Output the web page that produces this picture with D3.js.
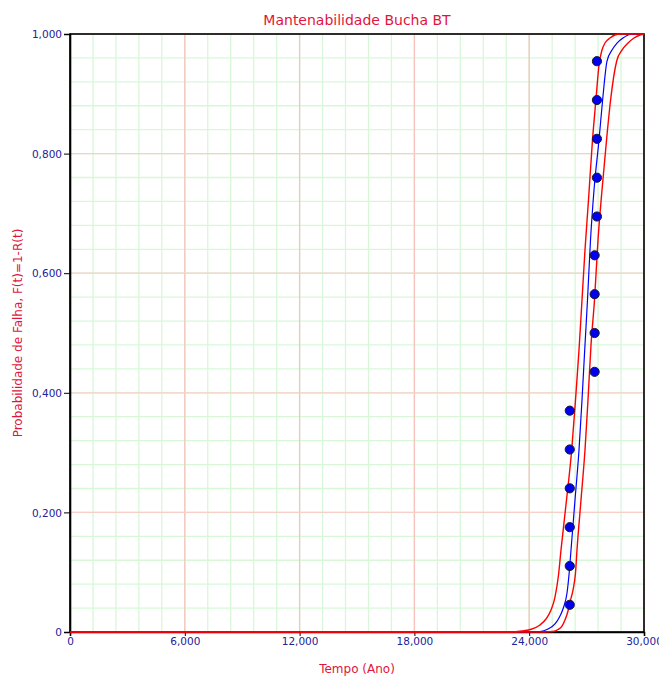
<!DOCTYPE html>
<html>
<head>
<meta charset="utf-8">
<script src="https://cdn.jsdelivr.net/npm/d3@7/dist/d3.min.js"></script>
<style>
  html, body { margin: 0; padding: 0; background: #fff; }
  svg { display: block; }
  text { font-family: "DejaVu Sans", Tahoma, sans-serif; }
</style>
</head>
<body>
<svg id="chart" width="659" height="680"></svg>
<script>
// ---- data ----
const title = "Mantenabilidade Bucha BT";
const xLabel = "Tempo (Ano)";
const yLabel = "Probabilidade de Falha, F(t)=1-R(t)";

const xTicks = [0, 6000, 12000, 18000, 24000, 30000];
const xTickLabels = ["0", "6,000", "12,000", "18,000", "24,000", "30,000"];
const yTicks = [0, 0.2, 0.4, 0.6, 0.8, 1.0];
const yTickLabels = ["0", "0,200", "0,400", "0,600", "0,800", "1,000"];

// observed failure points (time, unreliability)
const pointTimes = [26120, 26120, 26120, 26120, 26120, 26120,
                    27420, 27420, 27420, 27420,
                    27540, 27540, 27540, 27540, 27540];
const pointProbs = [0.0455, 0.1104, 0.1753, 0.2403, 0.3052, 0.3701,
                    0.4351, 0.5, 0.5649, 0.6299,
                    0.6948, 0.7597, 0.8247, 0.8896, 0.9545];

// fitted curve (blue)
const fitT = [0, 24042, 24564, 24983, 25348, 25610, 25819, 25976, 26080, 26185,
              26394, 26603, 26760, 26901, 27047, 27204, 27387, 27648, 27842,
              28066, 28328, 28589, 28902, 29268, 29582, 30000];
const fitF = [0, 0, 0.0008, 0.005, 0.0134, 0.0268, 0.0435, 0.0652, 0.0953, 0.1371,
              0.2207, 0.3043, 0.3880, 0.4716, 0.5552, 0.6555, 0.7391, 0.8227, 0.8913,
              0.9548, 0.9732, 0.9849, 0.9933, 0.9992, 1, 1];

// lower-time confidence bound (left red)
const lowT = [0, 23000, 23624, 24146, 24564, 24878, 25140, 25348, 25532, 25662,
              25950, 26221, 26420, 26603, 26760, 26916, 27099, 27308, 27491,
              27648, 27805, 27962, 28223, 28484, 28746, 30000];
const lowF = [0, 0, 0.0017, 0.005, 0.0117, 0.0217, 0.0368, 0.0585, 0.0953, 0.1371,
              0.2207, 0.3043, 0.3880, 0.4716, 0.5552, 0.6388, 0.7224, 0.8227, 0.8913,
              0.9482, 0.9732, 0.9849, 0.9933, 0.9983, 1, 1];

// upper-time confidence bound (right red)
const upT = [0, 24826, 25244, 25505, 25714, 25871, 26028, 26132, 26289, 26420,
             26498, 26707, 26916, 27073, 27230, 27413, 27596, 27805, 28066,
             28260, 28573, 28850, 29164, 29477, 29791, 30000];
const upF = [0, 0, 0.0008, 0.0042, 0.010, 0.020, 0.0351, 0.0502, 0.0702, 0.0987,
             0.1371, 0.2207, 0.3043, 0.3880, 0.4799, 0.5552, 0.6555, 0.7391, 0.8311,
             0.8913, 0.9548, 0.9732, 0.9849, 0.9933, 0.9983, 0.9995];

// ---- chart ----
const svg = d3.select("#chart");
const x = d3.scaleLinear().domain([0, 30000]).range([70, 644]);
const y = d3.scaleLinear().domain([0, 1]).range([632, 34]);

const minorX = d3.range(0, 30001, 1200);
const minorY = d3.range(0, 1.0001, 0.04);

const grid = svg.append("g");
grid.selectAll("line.mx").data(minorX).join("line")
  .attr("x1", d => x(d)).attr("x2", d => x(d))
  .attr("y1", y(0)).attr("y2", y(1))
  .attr("stroke", "#d8f7d8").attr("stroke-width", 1.3);
grid.selectAll("line.my").data(minorY).join("line")
  .attr("y1", d => y(d)).attr("y2", d => y(d))
  .attr("x1", x(0)).attr("x2", x(30000))
  .attr("stroke", "#d8f7d8").attr("stroke-width", 1.3);
grid.selectAll("line.Mx").data(xTicks).join("line")
  .attr("x1", d => x(d)).attr("x2", d => x(d))
  .attr("y1", y(0)).attr("y2", y(1))
  .attr("stroke", "#f6c4bc").attr("stroke-width", 1.3);
grid.selectAll("line.My").data(yTicks).join("line")
  .attr("y1", d => y(d)).attr("y2", d => y(d))
  .attr("x1", x(0)).attr("x2", x(30000))
  .attr("stroke", "#f6d0c8").attr("stroke-width", 1.3);

// frame
svg.append("rect")
  .attr("x", x(0)).attr("y", y(1))
  .attr("width", x(30000) - x(0)).attr("height", y(0) - y(1))
  .attr("fill", "none").attr("stroke", "#000").attr("stroke-width", 1.6);

// axes
const fmtX = d => xTickLabels[xTicks.indexOf(d)];
const fmtY = d => yTickLabels[yTicks.indexOf(d)];
const xAxis = svg.append("g").attr("transform", `translate(0,${y(0)})`)
  .call(d3.axisBottom(x).tickValues(xTicks).tickFormat(fmtX).tickSize(4).tickPadding(2));
const yAxis = svg.append("g").attr("transform", `translate(${x(0)},0)`)
  .call(d3.axisLeft(y).tickValues(yTicks).tickFormat(fmtY).tickSize(6).tickPadding(2));
[xAxis, yAxis].forEach(g => {
  g.select(".domain").attr("stroke", "#000").attr("stroke-width", 1.6);
  g.selectAll(".tick line").attr("stroke", "#000");
  g.selectAll(".tick text")
    .attr("fill", "#22229a")
    .style("font-family", "'DejaVu Sans', Tahoma, sans-serif")
    .style("font-size", "10.5px");
});
yAxis.selectAll(".tick text").attr("dy", "0.35em");

// curves (blue first, red bounds on top)
const line = (T, F) => d3.line().x((d, i) => x(T[i])).y((d, i) => y(F[i]))
  .curve(d3.curveMonotoneX)(T);
svg.append("path").attr("d", line(fitT, fitF))
  .attr("fill", "none").attr("stroke", "#0000ff").attr("stroke-width", 1.2);
svg.append("path").attr("d", line(lowT, lowF))
  .attr("fill", "none").attr("stroke", "#ff0000").attr("stroke-width", 1.4);
svg.append("path").attr("d", line(upT, upF))
  .attr("fill", "none").attr("stroke", "#ff0000").attr("stroke-width", 1.4);

// points
svg.append("g").selectAll("circle").data(pointTimes).join("circle")
  .attr("cx", (d, i) => x(pointTimes[i]))
  .attr("cy", (d, i) => y(pointProbs[i]))
  .attr("r", 4.6)
  .attr("fill", "#0000ee")
  .attr("stroke", "#1a1a2a").attr("stroke-width", 1);

// titles
svg.append("text").attr("x", 357).attr("y", 25)
  .attr("text-anchor", "middle").attr("fill", "#e0143c")
  .style("font-size", "14px").text(title);
svg.append("text").attr("x", 357).attr("y", 673)
  .attr("text-anchor", "middle").attr("fill", "#e0143c")
  .style("font-size", "12px").text(xLabel);
svg.append("text")
  .attr("transform", `translate(22,${y(0.5)}) rotate(-90)`)
  .attr("text-anchor", "middle").attr("fill", "#e0143c")
  .style("font-size", "12px").text(yLabel);
</script>
</body>
</html>
